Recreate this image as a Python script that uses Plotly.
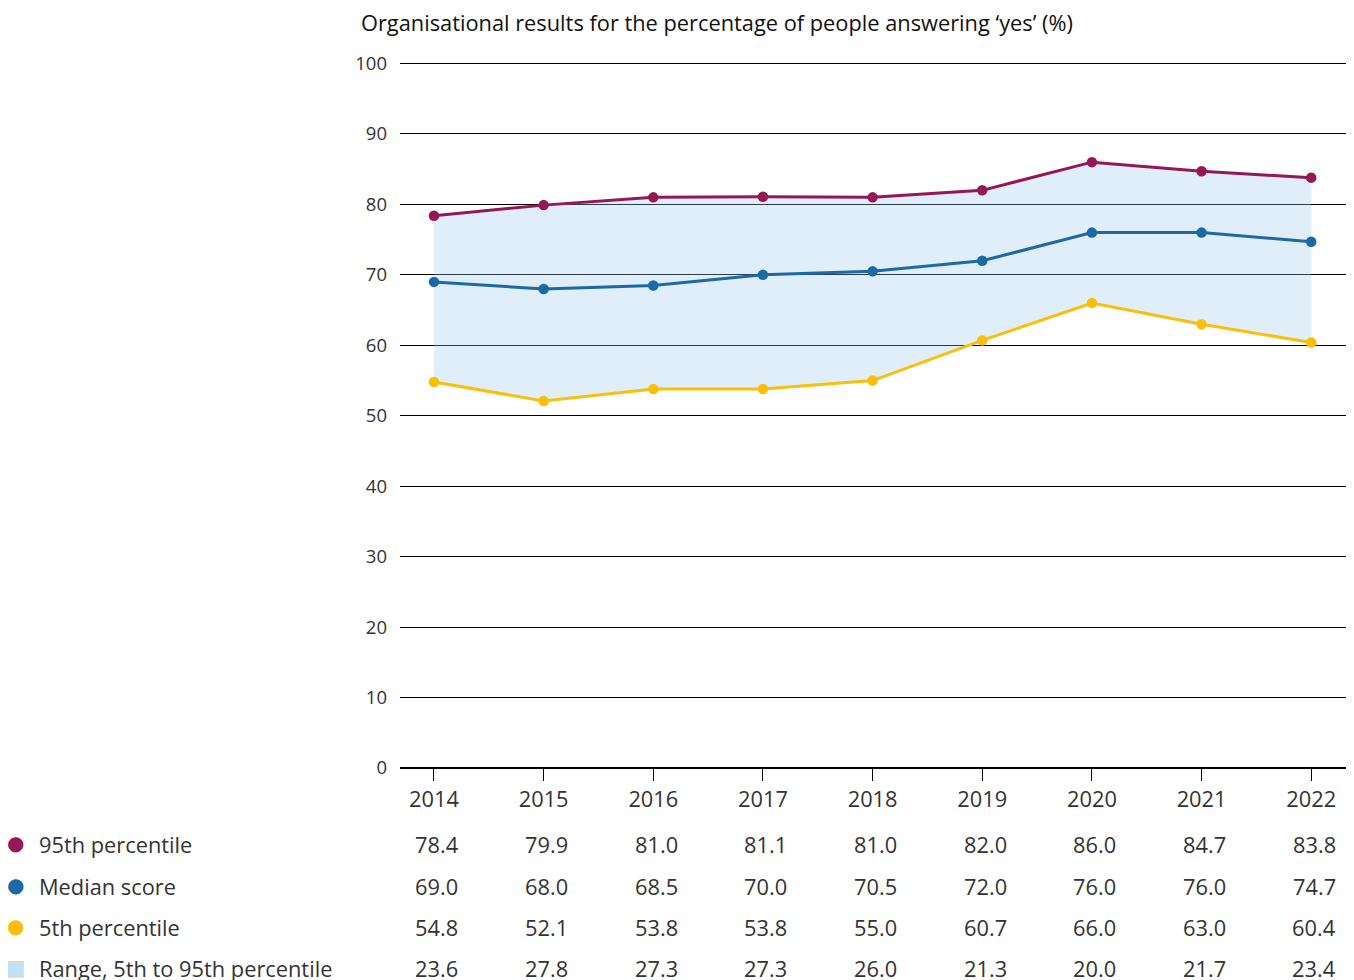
import plotly.graph_objects as go

years = [2014, 2015, 2016, 2017, 2018, 2019, 2020, 2021, 2022]
p95 = [78.4, 79.9, 81.0, 81.1, 81.0, 82.0, 86.0, 84.7, 83.8]
median = [69.0, 68.0, 68.5, 70.0, 70.5, 72.0, 76.0, 76.0, 74.7]
p5 = [54.8, 52.1, 53.8, 53.8, 55.0, 60.7, 66.0, 63.0, 60.4]
rng = [23.6, 27.8, 27.3, 27.3, 26.0, 21.3, 20.0, 21.7, 23.4]
row_labels = ["95th percentile", "Median score", "5th percentile", "Range, 5th to 95th percentile"]
title = "Organisational results for the percentage of people answering \u2018yes\u2019 (%)"

C95 = "#961756"
CMED = "#1c69a8"
C5 = "#fbbf0a"
CFILL = "rgba(150,200,235,0.30)"
CSQ = "#c2e1f3"
FONT = "Open Sans"
TXT = "#333333"

W, H = 1346, 972
L, R, T, B = 392, 0, 52, 212
PW = W - L - R

fig = go.Figure()
fig.add_trace(go.Scatter(x=years, y=p5, mode="lines", line=dict(width=0), hoverinfo="skip", showlegend=False))
fig.add_trace(go.Scatter(x=years, y=p95, mode="lines", line=dict(width=0), fill="tonexty",
                         fillcolor=CFILL, hoverinfo="skip", showlegend=False))
for ys, c in [(p95, C95), (median, CMED), (p5, C5)]:
    fig.add_trace(go.Scatter(x=years, y=ys, mode="lines+markers",
                             line=dict(color=c, width=3), marker=dict(color=c, size=10.5),
                             showlegend=False))

anns = []
anns.append(dict(text=title, xref="paper", yref="paper", x=(351 - L) / PW, y=1, yshift=38,
                 xanchor="left", yanchor="middle", showarrow=False,
                 font=dict(family=FONT, size=21.8, color="#111111")))
rows = [p95, median, p5, rng]
markers = [("\u25cf", C95), ("\u25cf", CMED), ("\u25cf", C5), ("\u25a0", CSQ)]
shifts = [-76, -118, -159, -200]
for vals, lab, (sym, col), sh in zip(rows, row_labels, markers, shifts):
    for x, v in zip(years, vals):
        anns.append(dict(text=f"{v:.1f}", xref="x", yref="paper", x=x, y=0, yshift=sh, xshift=3,
                         xanchor="center", yanchor="middle", showarrow=False,
                         font=dict(family=FONT, size=21.8, color=TXT)))
    anns.append(dict(text=lab, xref="paper", yref="paper", x=(29 - L) / PW, y=0, yshift=sh,
                     xanchor="left", yanchor="middle", showarrow=False,
                     font=dict(family=FONT, size=21.8, color=TXT)))
    anns.append(dict(text=sym, xref="paper", yref="paper", x=(7 - L) / PW, y=0, yshift=sh + 1,
                     xanchor="center", yanchor="middle", showarrow=False,
                     font=dict(family="DejaVu Sans", size=20 if sym == "\u25cf" else 22, color=col)))

fig.update_layout(
    width=W, height=H,
    margin=dict(l=L, r=R, t=T, b=B, autoexpand=False),
    plot_bgcolor="white", paper_bgcolor="white",
    font=dict(family=FONT, color=TXT),
    annotations=anns,
    xaxis=dict(range=[2013.69, 2022.39], tickvals=years, ticktext=[str(y) for y in years],
               showgrid=False, zeroline=False, showline=False,
               ticks="outside", ticklen=12, tickcolor="black", tickwidth=1,
               tickfont=dict(family=FONT, size=21.8, color=TXT), fixedrange=True),
    yaxis=dict(range=[0, 100.5], tickvals=list(range(0, 101, 10)),
               showgrid=True, gridcolor="black", gridwidth=1,
               zeroline=True, zerolinecolor="black", zerolinewidth=1.5,
               showline=False, ticks="", ticklabelstandoff=12,
               tickfont=dict(family=FONT, size=18.5, color=TXT)),
)

fig.write_html("out.html")
